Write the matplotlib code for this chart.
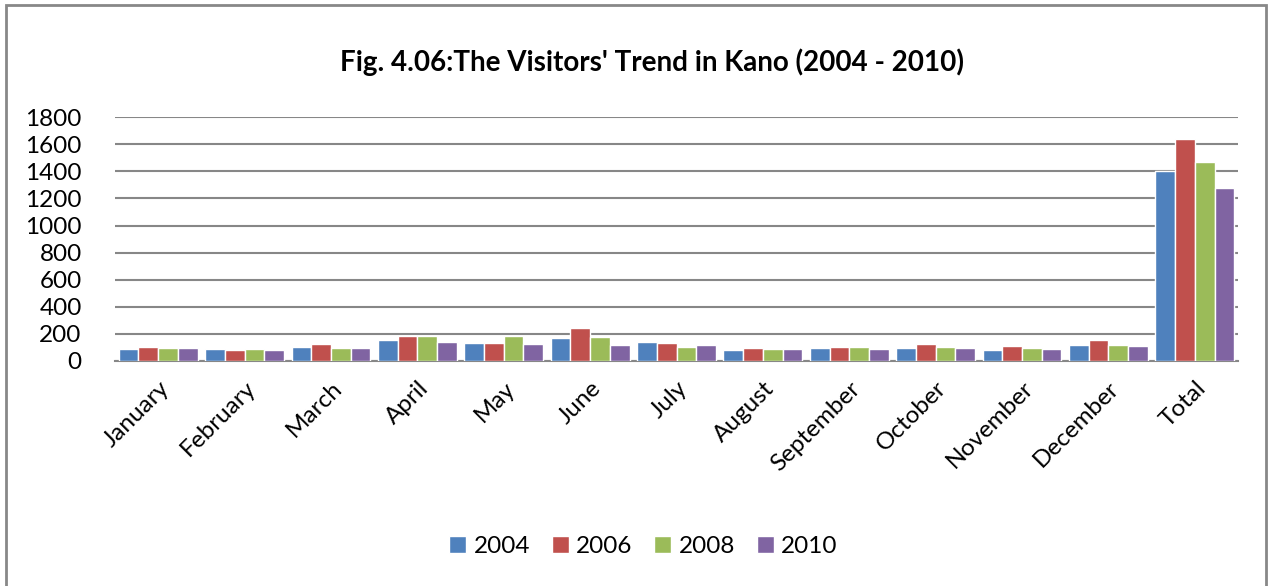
import matplotlib
matplotlib.use("Agg")
import matplotlib.pyplot as plt
from matplotlib.patches import Rectangle
import numpy as np

plt.rcParams['font.family'] = ['Lato', 'DejaVu Sans']

months = ["January", "February", "March", "April", "May", "June", "July",
          "August", "September", "October", "November", "December", "Total"]
years = ["2004", "2006", "2008", "2010"]

visitors_2004 = [86, 86, 101, 158, 136, 168, 143, 84, 94, 99, 84, 121, 1400]
visitors_2006 = [106, 81, 126, 185, 136, 247, 136, 99, 101, 128, 109, 153, 1642]
visitors_2008 = [99, 86, 94, 185, 185, 175, 104, 91, 101, 101, 94, 119, 1467]
visitors_2010 = [94, 81, 99, 138, 128, 119, 121, 89, 86, 94, 86, 109, 1274]

series = [visitors_2004, visitors_2006, visitors_2008, visitors_2010]
colors = ["#4F81BD", "#C0504D", "#9BBB59", "#8064A2"]

fig = plt.figure(figsize=(12.69, 5.86), dpi=100)
ax = fig.add_axes([0.0906, 0.384, 0.885, 0.416])

x = np.arange(len(months))
slot = 0.228
for i, (vals, col, yr) in enumerate(zip(series, colors, years)):
    ax.bar(x + (i - 1.5) * slot, vals, width=slot, color=col,
           edgecolor="white", linewidth=1.0, label=yr, zorder=3)

ax.set_xlim(-0.5, len(months) - 0.5)
ax.set_ylim(0, 1800)
ax.set_yticks(np.arange(0, 1801, 200))
ax.yaxis.grid(True, color="#878787", linewidth=1.5, zorder=0)
ax.set_axisbelow(True)

for s in ["top", "right", "left"]:
    ax.spines[s].set_visible(False)
ax.spines["bottom"].set_color("#878787")
ax.spines["bottom"].set_linewidth(1.5)
ax.tick_params(axis="both", length=0, labelsize=17.5, colors="black")
ax.tick_params(axis="y", pad=24)
ax.tick_params(axis="x", pad=12)

ax.set_xticks(x)
ax.set_xticklabels(months, rotation=45, ha="right", rotation_mode="anchor")

fig.text(0.514, 0.894, "Fig. 4.06:The Visitors' Trend in Kano (2004 - 2010)",
         ha="center", va="center", fontsize=20, fontweight="bold")

ax.legend(loc="center", bbox_to_anchor=(0.507, 0.067), bbox_transform=fig.transFigure,
          ncol=4, frameon=False, fontsize=17.5, handlelength=0.7, handleheight=0.7,
          handletextpad=0.3, columnspacing=0.9)

# outer chart frame
fig.patches.append(Rectangle((6 / 1269, -0.05), 1260 / 1269, 1.05 - 5 / 586,
                             transform=fig.transFigure, fill=False,
                             edgecolor="#888888", linewidth=2))

fig.savefig("out.png", dpi=100)
